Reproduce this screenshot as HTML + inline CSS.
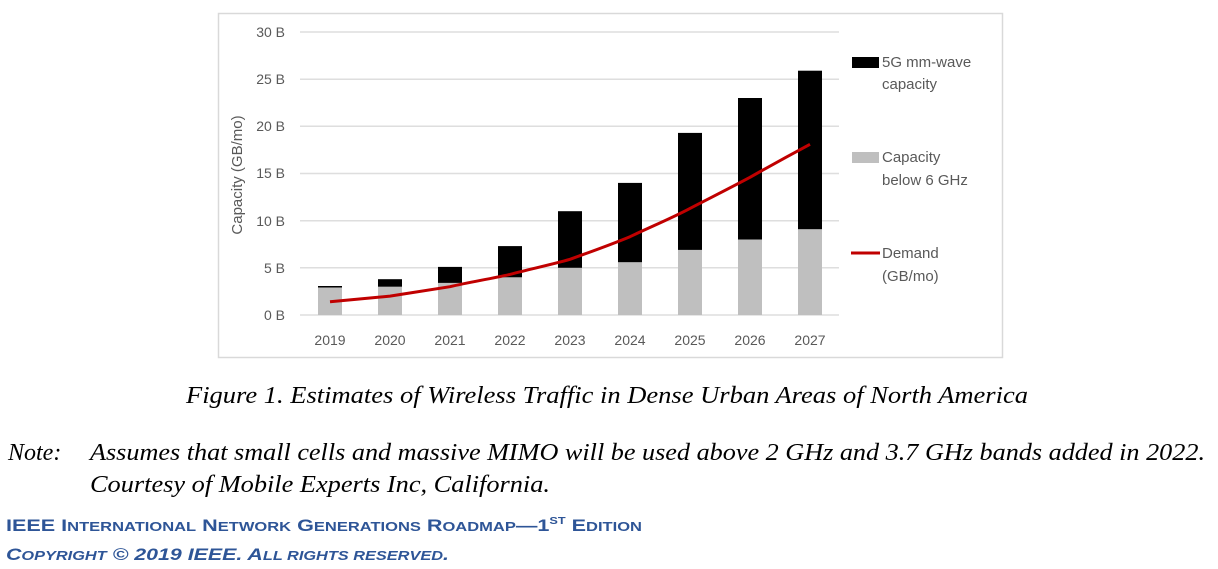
<!DOCTYPE html>
<html><head><meta charset="utf-8"><style>
html,body{margin:0;padding:0;background:#fff;}
svg{display:block;}
</style></head><body>
<svg width="1218" height="569" viewBox="0 0 1218 569" xmlns="http://www.w3.org/2000/svg">
<rect x="218.5" y="13.5" width="784" height="344" fill="#fff" stroke="#d9d9d9" stroke-width="1.5"/>
<g stroke="#dedede" stroke-width="1.5">
<line x1="300" y1="32" x2="839" y2="32"/>
<line x1="300" y1="79.2" x2="839" y2="79.2"/>
<line x1="300" y1="126.3" x2="839" y2="126.3"/>
<line x1="300" y1="173.5" x2="839" y2="173.5"/>
<line x1="300" y1="220.7" x2="839" y2="220.7"/>
<line x1="300" y1="267.8" x2="839" y2="267.8"/>
<line x1="300" y1="315" x2="839" y2="315"/>
</g>
<g font-family="Liberation Sans, sans-serif" font-size="14" fill="#595959" text-anchor="end">
<text x="285" y="37">30 B</text>
<text x="285" y="84">25 B</text>
<text x="285" y="131">20 B</text>
<text x="285" y="178">15 B</text>
<text x="285" y="226">10 B</text>
<text x="285" y="273">5 B</text>
<text x="285" y="320">0 B</text>
</g>
<text transform="translate(242,175) rotate(-90)" font-family="Liberation Sans, sans-serif" font-size="15" fill="#595959" text-anchor="middle">Capacity (GB/mo)</text>
<g fill="#bfbfbf">
<rect x="318" y="286.7" width="24" height="28.3"/>
<rect x="378" y="286.7" width="24" height="28.3"/>
<rect x="438" y="282.9" width="24" height="32.1"/>
<rect x="498" y="277.3" width="24" height="37.7"/>
<rect x="558" y="267.8" width="24" height="47.2"/>
<rect x="618" y="262.2" width="24" height="52.8"/>
<rect x="678" y="249.9" width="24" height="65.1"/>
<rect x="738" y="239.5" width="24" height="75.5"/>
<rect x="798" y="229.2" width="24" height="85.8"/>
</g>
<g fill="#000">
<rect x="318" y="286" width="24" height="1.5"/>
<rect x="378" y="279.2" width="24" height="7.5"/>
<rect x="438" y="266.9" width="24" height="16"/>
<rect x="498" y="246.1" width="24" height="31.2"/>
<rect x="558" y="211.2" width="24" height="56.6"/>
<rect x="618" y="182.9" width="24" height="79.3"/>
<rect x="678" y="132.9" width="24" height="117"/>
<rect x="738" y="98" width="24" height="141.5"/>
<rect x="798" y="70.7" width="24" height="158.5"/>
</g>
<path d="M330,301.8 C350,300 370,298 390,296.1 C410,293 430,290 450,286.7 C470,282 490,279 510,274.4 C530,269 550,265 570,259.3 C590,252 610,245 630,236.7 C650,227 670,219 690,208.4 C710,198 730,188 750,177.3 C770,166 790,155 810,144.3" fill="none" stroke="#c00000" stroke-width="3"/>
<g font-family="Liberation Sans, sans-serif" font-size="14" fill="#595959" text-anchor="middle">
<text x="330" y="345">2019</text><text x="390" y="345">2020</text><text x="450" y="345">2021</text>
<text x="510" y="345">2022</text><text x="570" y="345">2023</text><text x="630" y="345">2024</text>
<text x="690" y="345">2025</text><text x="750" y="345">2026</text><text x="810" y="345">2027</text>
</g>
<rect x="852" y="57" width="27" height="11" fill="#000"/>
<rect x="852" y="152" width="27" height="11" fill="#bfbfbf"/>
<line x1="851" y1="253" x2="880" y2="253" stroke="#c00000" stroke-width="3"/>
<g font-family="Liberation Sans, sans-serif" font-size="15" fill="#595959">
<text x="882" y="67">5G mm-wave</text><text x="882" y="89">capacity</text>
<text x="882" y="162">Capacity</text><text x="882" y="185">below 6 GHz</text>
<text x="882" y="258">Demand</text><text x="882" y="281">(GB/mo)</text>
</g>
<g font-family="Liberation Serif, serif" font-style="italic" font-size="24" fill="#000">
<text x="186" y="403" textLength="842" lengthAdjust="spacingAndGlyphs">Figure 1.  Estimates of Wireless Traffic in Dense Urban Areas of North America</text>
<text x="8" y="460">Note:</text>
<text x="90" y="460" textLength="1115" lengthAdjust="spacingAndGlyphs">Assumes that small cells and massive MIMO will be used above 2 GHz and 3.7 GHz bands added in 2022.</text>
<text x="90" y="492" textLength="460" lengthAdjust="spacingAndGlyphs">Courtesy of Mobile Experts Inc, California.</text>
</g>
<g font-family="Liberation Sans, sans-serif" font-weight="bold" fill="#2e5597">
<text x="6" y="531" font-size="17" textLength="636" lengthAdjust="spacingAndGlyphs">IEEE I<tspan font-size="13">NTERNATIONAL</tspan> N<tspan font-size="13">ETWORK</tspan> G<tspan font-size="13">ENERATIONS</tspan> R<tspan font-size="13">OADMAP</tspan>—1<tspan font-size="10" dy="-7">ST</tspan><tspan dy="7"> E</tspan><tspan font-size="13">DITION</tspan></text>
<text x="6" y="560" font-size="17" font-style="italic" textLength="443" lengthAdjust="spacingAndGlyphs">C<tspan font-size="13">OPYRIGHT</tspan> © 2019 IEEE. A<tspan font-size="13">LL RIGHTS RESERVED</tspan>.</text>
</g>
</svg>
</body></html>
